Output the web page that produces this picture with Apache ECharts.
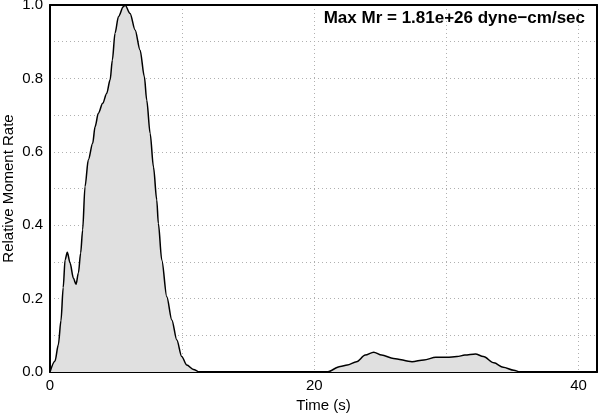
<!DOCTYPE html>
<html>
<head>
<meta charset="utf-8">
<script src="https://cdn.jsdelivr.net/npm/echarts@6/dist/echarts.min.js"></script>
<style>html,body{margin:0;padding:0;background:#fff;}#c{width:600px;height:415px;}</style>
</head>
<body>
<div id="c"></div>
<script>
var times = [0, 0.38, 0.63, 0.83, 1.0, 1.14, 1.31, 1.52, 1.77, 1.97, 2.15, 2.32, 2.47, 2.65, 2.9, 3.23, 3.41, 3.66, 3.99, 4.29, 4.55, 4.72, 4.92, 5.18, 5.55, 5.68, 6.06, 6.44, 6.82, 7.14, 7.32, 7.58, 7.83, 8.08, 8.2, 8.46, 8.84, 9.22, 9.6, 9.97, 10.35, 10.86, 11.3, 15, 20, 20.96, 21.97, 22.5, 23.2, 23.86, 24.5, 25.1, 26.0, 27.4, 28.3, 29.2, 30.05, 30.8, 31.4, 32.2, 32.8, 33.6, 34.3, 35.1, 35.6, 41.4];
var rates = [0, 0.03, 0.074, 0.14, 0.23, 0.305, 0.326, 0.297, 0.256, 0.239, 0.27, 0.324, 0.387, 0.505, 0.578, 0.623, 0.668, 0.705, 0.732, 0.759, 0.796, 0.85, 0.923, 0.968, 0.995, 1.0, 0.977, 0.932, 0.877, 0.805, 0.741, 0.65, 0.559, 0.469, 0.405, 0.305, 0.205, 0.142, 0.087, 0.042, 0.019, 0.007, 0, 0, 0, 0, 0.015, 0.019, 0.028, 0.046, 0.054, 0.046, 0.037, 0.028, 0.033, 0.04, 0.04, 0.042, 0.046, 0.049, 0.042, 0.025, 0.013, 0.005, 0, 0];
var xTickLabels = [0, 20, 40];
var titleText = 'Max Mr = 1.81e+26 dyne\u2212cm/sec';
var xName = 'Time (s)';
var yName = 'Relative Moment Rate';

var data = times.map(function (t, i) { return [t, rates[i]]; });
var font = '"Liberation Sans", Arial, Helvetica, sans-serif';
var dotted = {color: '#b0b0b0', type: [1, 3], width: 1};
var frame = {show: true, onZero: false, lineStyle: {color: '#000', width: 2}};
var chart = echarts.init(document.getElementById('c'), null, {renderer: 'canvas'});
chart.setOption({
  animation: false,
  backgroundColor: '#fff',
  title: {
    text: titleText, right: 10, top: 5,
    textStyle: {fontFamily: font, fontSize: 17, fontWeight: 'bold', color: '#000'}
  },
  grid: {left: 50, right: 3, top: 5, bottom: 43, outerBoundsMode: 'none', containLabel: false},
  xAxis: [{
    type: 'value', min: 0, max: 41.4, interval: 10,
    name: xName, nameLocation: 'middle', nameGap: 26, nameMoveOverlap: false,
    nameTextStyle: {fontFamily: font, fontSize: 15, color: '#000'},
    axisLine: frame, axisTick: {show: false},
    axisLabel: {
      fontFamily: font, fontSize: 15, color: '#000', margin: 6, showMaxLabel: false,
      formatter: function (v) { return xTickLabels.indexOf(Math.round(v)) >= 0 && Math.abs(v - Math.round(v)) < 1e-6 ? String(Math.round(v)) : ''; }
    },
    splitLine: {show: true, showMinLine: false, showMaxLine: false, lineStyle: dotted}
  }, {
    type: 'value', position: 'top', min: 0, max: 41.4, interval: 10,
    axisLine: frame, axisTick: {show: false}, axisLabel: {show: false}, splitLine: {show: false}
  }],
  yAxis: [{
    type: 'value', min: 0, max: 1, interval: 0.1,
    name: yName, nameLocation: 'middle', nameGap: 34, nameMoveOverlap: false,
    nameTextStyle: {fontFamily: font, fontSize: 15, color: '#000'},
    axisLine: frame, axisTick: {show: false},
    axisLabel: {
      fontFamily: font, fontSize: 15, color: '#000', margin: 7,
      formatter: function (v) { var k = Math.round(v * 10); return k % 2 === 0 ? (k / 10).toFixed(1) : ''; }
    },
    splitLine: {show: true, showMinLine: false, showMaxLine: false, lineStyle: dotted}
  }, {
    type: 'value', position: 'right', min: 0, max: 1, interval: 0.1,
    axisLine: frame, axisTick: {show: false}, axisLabel: {show: false}, splitLine: {show: false}
  }],
  series: [{
    type: 'line', data: data, smooth: 0.3, smoothMonotone: 'x', showSymbol: false,
    lineStyle: {color: '#000', width: 1.5},
    areaStyle: {color: '#e0e0e0', opacity: 1},
    z: 1
  }]
});
</script>
</body>
</html>
